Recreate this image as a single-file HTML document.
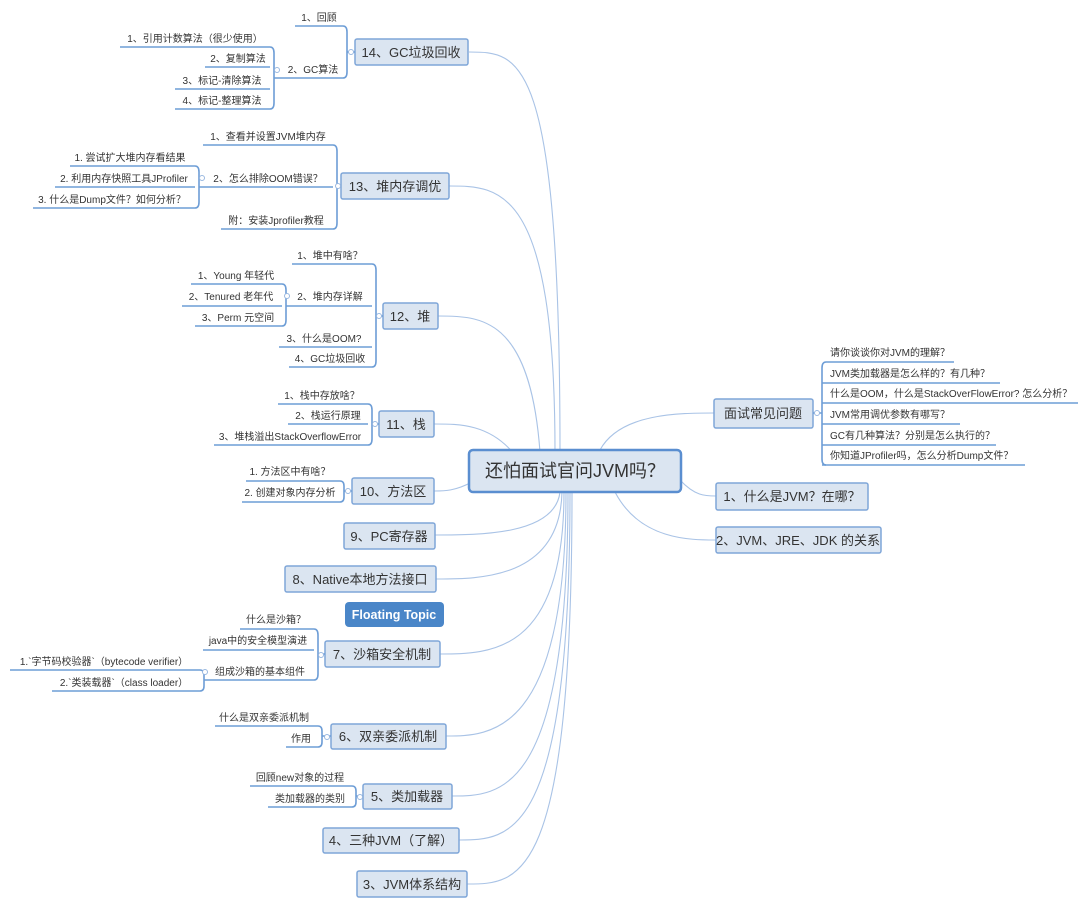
<!DOCTYPE html>
<html><head><meta charset="utf-8"><style>
html,body{margin:0;padding:0;background:#fff;}
svg{display:block;font-family:"Liberation Sans","Noto Sans CJK SC",sans-serif;}
.c{fill:none;stroke:#a9c3e6;stroke-width:1.1}
.u{fill:none;stroke:#6d9dd6;stroke-width:1.6}
.b{fill:#dbe5f1;stroke:#7fa6d8;stroke-width:1.5}
.t{font-size:13px;fill:#333;text-anchor:middle}
.s{font-size:10px;fill:#333;text-anchor:middle}
.r{font-size:10px;fill:#333;text-anchor:start}
.o{fill:#fff;stroke:#9ab8e0;stroke-width:1}
</style></head><body>
<svg width="1080" height="907" viewBox="0 0 1080 907" xmlns="http://www.w3.org/2000/svg">
<!-- main connectors -->
<path class="c" d="M560 452 C560 52 520 52 469 52"/>
<path class="c" d="M555 452 C555 186 500 186 449 186"/>
<path class="c" d="M540 452 C530 316 480 316 438 316"/>
<path class="c" d="M515 455 C490 424 460 424 434 424"/>
<path class="c" d="M472 482 C455 491 445 491 434 491"/>
<path class="c" d="M560 492 C555 535 480 535 435 535"/>
<path class="c" d="M562 492 C560 579 480 579 436 579"/>
<path class="c" d="M564 492 C564 654 490 654 440 654"/>
<path class="c" d="M566 492 C566 736 490 736 446 736"/>
<path class="c" d="M568 492 C568 796 500 796 452 796"/>
<path class="c" d="M570 492 C570 840 510 840 459 840"/>
<path class="c" d="M572 492 C572 884 520 884 467 884"/>
<path class="c" d="M600 450 C620 413 680 413 714 413"/>
<path class="c" d="M680 480 C695 496 705 496 716 496"/>
<path class="c" d="M615 492 C640 540 690 540 716 540"/>

<!-- center -->
<rect x="469" y="450" width="212" height="42" rx="4" fill="#dbe5f1" stroke="#5a8ed0" stroke-width="2.5"/>
<text x="575" y="477" style="font-size:18px;fill:#333;text-anchor:middle">还怕面试官问JVM吗？</text>

<!-- right -->
<rect class="b" x="714" y="399" width="99" height="29" rx="2"/><text class="t" x="763" y="418">面试常见问题</text>
<rect class="b" x="716" y="483" width="152" height="27" rx="2"/><text class="t" x="792" y="501">1、什么是JVM？在哪？</text>
<rect class="b" x="716" y="527" width="165" height="26" rx="2"/><text class="t" x="798" y="545">2、JVM、JRE、JDK 的关系</text>
<path class="u" d="M813 413 L822 413 M826 362 Q822 362 822 368 L822 459 Q822 465 826 465"/>
<circle class="o" cx="817" cy="413" r="2.5"/>
<path class="u" d="M826 362H954 M822 383H1000 M822 403H1078 M822 424H960 M822 445H996 M822 465H1025"/>
<text class="r" x="830" y="356">请你谈谈你对JVM的理解？</text>
<text class="r" x="830" y="377">JVM类加载器是怎么样的？有几种？</text>
<text class="r" x="830" y="397">什么是OOM，什么是StackOverFlowError? 怎么分析？</text>
<text class="r" x="830" y="418">JVM常用调优参数有哪写？</text>
<text class="r" x="830" y="439">GC有几种算法？分别是怎么执行的？</text>
<text class="r" x="830" y="459">你知道JProfiler吗，怎么分析Dump文件？</text>

<!-- left boxes -->
<rect class="b" x="355" y="39" width="113" height="26" rx="2"/><text class="t" x="411" y="57">14、GC垃圾回收</text>
<rect class="b" x="341" y="173" width="108" height="26" rx="2"/><text class="t" x="395" y="191">13、堆内存调优</text>
<rect class="b" x="383" y="303" width="55" height="26" rx="2"/><text class="t" x="410" y="321">12、堆</text>
<rect class="b" x="379" y="411" width="55" height="26" rx="2"/><text class="t" x="406" y="429">11、栈</text>
<rect class="b" x="352" y="478" width="82" height="26" rx="2"/><text class="t" x="393" y="496">10、方法区</text>
<rect class="b" x="344" y="523" width="91" height="26" rx="2"/><text class="t" x="389" y="541">9、PC寄存器</text>
<rect class="b" x="285" y="566" width="151" height="26" rx="2"/><text class="t" x="360" y="584">8、Native本地方法接口</text>
<rect x="345" y="602" width="99" height="25" rx="4" fill="#4a86c8"/><text x="394" y="619" style="font-size:12.5px;font-weight:bold;fill:#fff;text-anchor:middle">Floating Topic</text>
<rect class="b" x="325" y="641" width="115" height="26" rx="2"/><text class="t" x="382" y="659">7、沙箱安全机制</text>
<rect class="b" x="331" y="724" width="115" height="25" rx="2"/><text class="t" x="388" y="741">6、双亲委派机制</text>
<rect class="b" x="363" y="784" width="89" height="25" rx="2"/><text class="t" x="407" y="801">5、类加载器</text>
<rect class="b" x="323" y="828" width="136" height="25" rx="2"/><text class="t" x="391" y="845">4、三种JVM（了解）</text>
<rect class="b" x="357" y="871" width="110" height="26" rx="2"/><text class="t" x="412" y="889">3、JVM体系结构</text>

<!-- sub underlines & brackets -->
<g class="u">
<path d="M295 26H343 M280 78H343 M343 26 Q347 26 347 32 L347 72 Q347 78 343 78 M347 52H355"/>
<path d="M120 47H270 M205 67H270 M175 89H270 M175 109H270 M270 47 Q274 47 274 53 L274 103 Q274 109 270 109 M274 78H280"/>
<path d="M203 145H333 M207 187H333 M221 229H333 M333 145 Q337 145 337 151 L337 223 Q337 229 333 229 M337 186H341"/>
<path d="M70 166H195 M55 187H195 M33 208H195 M195 166 Q199 166 199 172 L199 202 Q199 208 195 208 M199 187H207"/>
<path d="M292 264H372 M292 306H372 M279 347H372 M289 367H372 M372 264 Q376 264 376 270 L376 361 Q376 367 372 367 M376 316H383"/>
<path d="M191 284H282 M182 306H282 M195 326H282 M282 284 Q286 284 286 290 L286 320 Q286 326 282 326 M286 306H292"/>
<path d="M278 404H368 M288 424H368 M214 445H368 M368 404 Q372 404 372 410 L372 439 Q372 445 368 445 M372 424H379"/>
<path d="M246 481H340 M242 502H340 M340 481 Q344 481 344 486 L344 497 Q344 502 340 502 M344 491H352"/>
<path d="M240 629H314 M203 650H314 M207 680H314 M314 629 Q318 629 318 635 L318 674 Q318 680 314 680 M318 654H325"/>
<path d="M10 670H200 M52 691H200 M200 670 Q204 670 204 675 L204 686 Q204 691 200 691 M204 680H207"/>
<path d="M215 726H318 M286 747H318 M318 726 Q322 726 322 731 L322 742 Q322 747 318 747 M322 736H331"/>
<path d="M250 786H352 M268 807H352 M352 786 Q356 786 356 791 L356 802 Q356 807 352 807 M356 796H363"/>
</g>
<circle class="o" cx="351" cy="52" r="2.5"/>
<circle class="o" cx="277" cy="70" r="2.5"/>
<circle class="o" cx="338" cy="186" r="2.5"/>
<circle class="o" cx="202" cy="178" r="2.5"/>
<circle class="o" cx="379" cy="316" r="2.5"/>
<circle class="o" cx="287" cy="296" r="2.5"/>
<circle class="o" cx="375" cy="424" r="2.5"/>
<circle class="o" cx="348" cy="491" r="2.5"/>
<circle class="o" cx="321" cy="655" r="2.5"/>
<circle class="o" cx="205" cy="672" r="2.5"/>
<circle class="o" cx="327" cy="737" r="2.5"/>
<circle class="o" cx="360" cy="797" r="2.5"/>

<!-- sub texts -->
<text class="s" x="319" y="21">1、回顾</text>
<text class="s" x="313" y="73">2、GC算法</text>
<text class="s" x="195" y="42">1、引用计数算法（很少使用）</text>
<text class="s" x="238" y="62">2、复制算法</text>
<text class="s" x="222" y="84">3、标记-清除算法</text>
<text class="s" x="222" y="104">4、标记-整理算法</text>
<text class="s" x="268" y="140">1、查看并设置JVM堆内存</text>
<text class="s" x="268" y="182">2、怎么排除OOM错误？</text>
<text class="s" x="276" y="224">附：安装Jprofiler教程</text>
<text class="s" x="130" y="161">1. 尝试扩大堆内存看结果</text>
<text class="s" x="124" y="182">2. 利用内存快照工具JProfiler</text>
<text class="s" x="112" y="203">3. 什么是Dump文件？如何分析？</text>
<text class="s" x="330" y="259">1、堆中有啥？</text>
<text class="s" x="330" y="300">2、堆内存详解</text>
<text class="s" x="324" y="342">3、什么是OOM?</text>
<text class="s" x="330" y="362">4、GC垃圾回收</text>
<text class="s" x="236" y="279">1、Young 年轻代</text>
<text class="s" x="231" y="300">2、Tenured 老年代</text>
<text class="s" x="238" y="321">3、Perm 元空间</text>
<text class="s" x="322" y="399">1、栈中存放啥？</text>
<text class="s" x="328" y="419">2、栈运行原理</text>
<text class="s" x="290" y="440">3、堆栈溢出StackOverflowError</text>
<text class="s" x="290" y="475">1. 方法区中有啥？</text>
<text class="s" x="290" y="496">2. 创建对象内存分析</text>
<text class="s" x="276" y="623">什么是沙箱？</text>
<text class="s" x="258" y="644">java中的安全模型演进</text>
<text class="s" x="260" y="675">组成沙箱的基本组件</text>
<text class="s" x="104" y="665">1.`字节码校验器`（bytecode verifier）</text>
<text class="s" x="124" y="686">2.`类装载器`（class loader）</text>
<text class="s" x="264" y="721">什么是双亲委派机制</text>
<text class="s" x="301" y="742">作用</text>
<text class="s" x="300" y="781">回顾new对象的过程</text>
<text class="s" x="310" y="802">类加载器的类别</text>
</svg>
</body></html>
